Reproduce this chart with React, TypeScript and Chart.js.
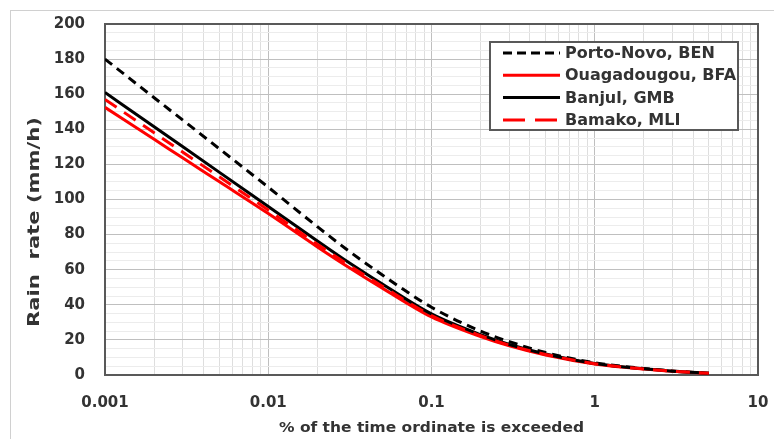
import React, { useEffect, useRef } from 'react';
import { Chart, registerables } from 'chart.js';

Chart.register(...registerables);

// ---- data ----
const percentTime = [0.001, 0.002, 0.003, 0.005, 0.01, 0.02, 0.03, 0.05, 0.1, 0.2, 0.3, 0.5, 1, 2, 3, 5];
const portoNovo = [180, 158, 145.2, 129, 107, 84.5, 71.8, 57, 38.6, 25, 19, 12.8, 7, 3.7, 2.3, 1];
const ouagadougou = [152.5, 134.3, 123.6, 110.2, 92, 73, 62.3, 49.5, 33.1, 21.9, 16.6, 11.4, 6.3, 3.35, 2.1, 0.95];
const banjul = [161, 141.4, 130, 115.6, 96, 76.4, 65.1, 51.8, 34.8, 23, 17.4, 12, 6.6, 3.5, 2.2, 1];
const bamako = [157, 138, 126.9, 113, 94, 74.5, 63.6, 50.6, 33.9, 22.4, 17, 11.7, 6.45, 3.4, 2.15, 1];
const seriesNames = ['Porto-Novo, BEN', 'Ouagadougou, BFA', 'Banjul, GMB', 'Bamako, MLI'];
const xDecadeTicks = [0.001, 0.01, 0.1, 1, 10];
const yMajorTicks = [0, 20, 40, 60, 80, 100, 120, 140, 160, 180, 200];
const xTitle = '% of the time ordinate is exceeded';
const yTitle = 'Rain  rate (mm/h)';

const FONT = '"DejaVu Sans", "Open Sans", sans-serif';
const TEXT = '#333333';

const isDecade = (v: number) => Math.abs(Math.log10(v) - Math.round(Math.log10(v))) < 1e-9;

function fitText(ctx: CanvasRenderingContext2D, text: string, cx: number, cy: number, width: number, rotate: boolean) {
  const w = ctx.measureText(text).width;
  ctx.save();
  ctx.translate(cx, cy);
  if (rotate) ctx.rotate(-Math.PI / 2);
  ctx.scale(width / w, 1);
  ctx.fillText(text, 0, 0);
  ctx.restore();
}

const decorPlugin = {
  id: 'decor',
  beforeDatasetsDraw(chart: any) {
    const { ctx, chartArea } = chart;
    ctx.save();
    ctx.strokeStyle = '#595959';
    ctx.lineWidth = 2;
    ctx.strokeRect(chartArea.left, chartArea.top, chartArea.right - chartArea.left, chartArea.bottom - chartArea.top);
    ctx.restore();
  },
  afterDraw(chart: any) {
    const { ctx, chartArea } = chart;
    ctx.save();
    // axis titles
    ctx.fillStyle = TEXT;
    ctx.textAlign = 'center';
    ctx.textBaseline = 'middle';
    ctx.font = `bold 14px ${FONT}`;
    fitText(ctx, xTitle, (chartArea.left + chartArea.right) / 2, 428, 305, false);
    ctx.font = `bold 16px ${FONT}`;
    fitText(ctx, yTitle, 35, 222, 210, true);

    // legend
    const bx = 490, by = 42, bw = 248, bh = 88;
    ctx.fillStyle = '#ffffff';
    ctx.fillRect(bx, by, bw, bh);
    ctx.strokeStyle = '#595959';
    ctx.lineWidth = 2;
    ctx.strokeRect(bx, by, bw, bh);
    chart.data.datasets.forEach((ds: any, i: number) => {
      const y = 53 + i * 22.3;
      ctx.save();
      ctx.strokeStyle = ds.borderColor;
      ctx.lineWidth = 3;
      ctx.setLineDash(ds.legendDash || []);
      ctx.beginPath();
      ctx.moveTo(503, y);
      ctx.lineTo(560, y);
      ctx.stroke();
      ctx.restore();
      ctx.fillStyle = TEXT;
      ctx.font = `bold 16px ${FONT}`;
      ctx.textAlign = 'left';
      ctx.textBaseline = 'middle';
      ctx.fillText(ds.label, 565, y + 1);
    });
    ctx.restore();
  },
};

function toPoints(ys: number[]) {
  return percentTime.map((x, i) => ({ x, y: ys[i] }));
}

export default function App() {
  const canvasRef = useRef<HTMLCanvasElement | null>(null);

  useEffect(() => {
    const canvas = canvasRef.current;
    if (!canvas) return;
    const chart = new Chart(canvas, {
      type: 'line',
      data: {
        datasets: [
          { label: seriesNames[0], data: toPoints(portoNovo), borderColor: '#000000', borderDash: [9, 6], legendDash: [9, 5], borderWidth: 3, order: 4 } as any,
          { label: seriesNames[1], data: toPoints(ouagadougou), borderColor: '#ff0000', borderDash: [], legendDash: [], borderWidth: 3, order: 3 } as any,
          { label: seriesNames[2], data: toPoints(banjul), borderColor: '#000000', borderDash: [], legendDash: [], borderWidth: 3, order: 2 } as any,
          { label: seriesNames[3], data: toPoints(bamako), borderColor: '#ff0000', borderDash: [14, 9], legendDash: [22, 10], borderWidth: 3, order: 1 } as any,
        ],
      },
      options: {
        animation: false,
        responsive: false,
        maintainAspectRatio: false,
        layout: { padding: { left: 0, top: 24, right: 16, bottom: 0 } },
        elements: {
          point: { radius: 0 },
          line: { cubicInterpolationMode: 'monotone', fill: false, borderCapStyle: 'butt' },
        },
        plugins: { legend: { display: false }, tooltip: { enabled: false }, title: { display: false } },
        scales: {
          x: {
            type: 'logarithmic',
            min: 0.001,
            max: 10,
            afterBuildTicks: (scale: any) => {
              const ticks: any[] = [];
              for (let d = 0; d < xDecadeTicks.length; d++) {
                const base = xDecadeTicks[d];
                ticks.push({ value: base });
                if (d < xDecadeTicks.length - 1) {
                  for (let m = 2; m <= 9; m++) ticks.push({ value: base * m });
                }
              }
              scale.ticks = ticks;
            },
            afterFit: (scale: any) => {
              scale.height = 64;
              scale.paddingLeft = 0;
              scale.paddingRight = 0;
            },
            ticks: {
              autoSkip: false,
              maxRotation: 0,
              padding: 19,
              color: TEXT,
              font: { family: FONT, size: 15, weight: 'bold' },
              callback: (v: any) => {
                const n = Number(v);
                if (!isDecade(n)) return '';
                const found = xDecadeTicks.find((t) => Math.abs(t - n) / t < 1e-9);
                return found !== undefined ? String(found) : '';
              },
            },
            grid: {
              drawTicks: false,
              color: (c: any) => (c.tick && isDecade(c.tick.value) ? '#bfbfbf' : '#dedede'),
              lineWidth: 1,
            },
            border: { display: false },
          },
          y: {
            type: 'linear',
            min: 0,
            max: 200,
            afterBuildTicks: (scale: any) => {
              const ticks: any[] = [];
              for (let v = 0; v <= 200; v += 5) ticks.push({ value: v });
              scale.ticks = ticks;
            },
            afterFit: (scale: any) => {
              scale.width = 105;
              scale.paddingTop = 0;
              scale.paddingBottom = 0;
            },
            ticks: {
              autoSkip: false,
              padding: 20,
              color: TEXT,
              font: { family: FONT, size: 15, weight: 'bold' },
              callback: (v: any) => (yMajorTicks.includes(Number(v)) ? String(v) : ''),
            },
            grid: {
              drawTicks: false,
              color: (c: any) => (c.tick && c.tick.value % 20 === 0 ? '#bfbfbf' : '#ececec'),
              lineWidth: 1,
            },
            border: { display: false },
          },
        },
      },
      plugins: [decorPlugin],
    } as any);
    return () => chart.destroy();
  }, []);

  return (
    <div style={{ position: 'fixed', left: 0, top: 0, width: 774, height: 439, background: '#fff', overflow: 'hidden' }}>
      <div style={{ position: 'absolute', left: 10, top: 10, width: 800, height: 500, border: '1px solid #d0d0d0' }} />
      <canvas ref={canvasRef} width={774} height={439} style={{ position: 'absolute', left: 0, top: 0, width: 774, height: 439 }} />
    </div>
  );
}
